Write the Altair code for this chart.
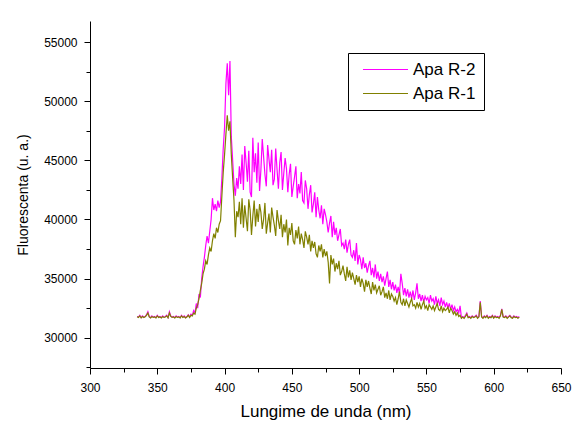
import altair as alt
import pandas as pd

x_start = 335
x_end = 619

apa_r2 = [
    31800, 31750, 31900, 31700, 31850, 31750, 31800, 31950, 32200, 31800,
    31700, 31850, 31750, 31800, 31700, 31900, 31750, 31800, 31700, 31850,
    31750, 31800, 31900, 31700, 32200, 31850, 31750, 31800, 31700, 31850,
    31750, 31800, 31700, 31900, 31750, 31850, 31700, 31800, 31950, 31750,
    32000, 31900, 32300, 32100, 32900, 32500, 33700, 33400, 35000, 36000,
    36800, 37800, 38600, 38000, 39000, 40000, 41800, 40800, 41300, 40700,
    41600, 41000, 41500, 43500, 46000, 47800, 51500, 53200, 50500, 53400,
    47000, 45000, 43000, 42000, 43500, 42600, 44500, 43000, 45500, 42500,
    46200, 44800, 43200, 45800, 42300, 41900, 46900, 44000, 45600, 43100,
    46500, 42400, 44200, 46800, 45300, 43800, 42800, 46300, 45100, 44000,
    45900, 42900, 43400, 46000, 44200, 42600, 44800, 45700, 42500, 43900,
    45200, 44300, 42300, 43800, 44700, 41900, 42800, 43600, 44500, 41800,
    43000, 42200, 44000, 41600, 41400, 43300, 42600, 40900, 42100, 42900,
    40600, 41300, 42300, 40200, 41900, 40800, 40100, 41200, 39600, 40900,
    40400, 39800, 38900, 39700, 40300, 38500, 39800, 38700, 39300, 38200,
    38700, 39200, 37800, 38000, 37500, 38300, 37200, 37900, 38300, 37000,
    36800, 37400, 36500, 38000, 36200, 37000, 36600, 35800, 36800, 35900,
    36300, 35500, 36100, 36500, 35300, 35900, 35100, 36200, 35000, 35600,
    34800, 35400, 34700, 35200, 34400, 35000, 35600, 34300, 34900, 34100,
    34700, 34000, 34500, 33800, 34300, 33700, 35400, 34600, 33600, 34200,
    33500, 34100, 33400, 33900, 33300, 34000, 33200, 33800, 34600, 33300,
    33700, 33100, 33600, 33000, 33500, 33200, 33400, 32900, 33600, 33100,
    33300, 32800, 33500, 32900, 33200, 32700, 33400, 32800, 33100, 32600,
    33000, 32500, 32900, 32400, 32800, 32300, 32600, 32200, 32400, 32100,
    32700, 31700, 31800, 31700, 31900, 32100, 31750, 31800, 31700, 31850,
    31750, 31800, 31900, 31700, 31800, 33100, 31800, 31700, 31850, 31750,
    31900, 31700, 31800, 31750, 31900, 31700, 31850, 31750, 31800, 31700,
    31900, 32450, 31800, 31750, 31850, 31700, 31800, 31900, 31750, 31700,
    31850, 31750, 31800, 31700, 31800,
]

apa_r1 = [
    31780, 31720, 31850, 31680, 31800, 31720, 31780, 31900, 32100, 31760,
    31680, 31800, 31720, 31760, 31680, 31850, 31720, 31760, 31680, 31800,
    31720, 31760, 31850, 31680, 32100, 31800, 31720, 31760, 31680, 31800,
    31720, 31760, 31680, 31850, 31720, 31800, 31680, 31760, 31900, 31720,
    31900, 31850, 32100, 32000, 32500, 32800, 33300, 34000, 34600, 35400,
    35800, 36500, 36200, 37000, 37600, 37300, 38200, 38800, 38400, 39300,
    38900, 39600, 39900, 42000, 44000, 45500, 47200, 48800, 47500, 48300,
    45500, 43500, 41600, 38500, 40700, 40200, 41500, 39600, 41800, 39300,
    41200, 40100, 39000, 41700, 40800, 38700, 40300, 41600, 39400, 40900,
    39800, 41300, 40600, 39200, 40000, 41400, 38800, 39700, 40500, 38900,
    41000, 40200, 39500, 38600, 40800, 39900, 39200, 40400, 38500, 39600,
    38900, 40000, 37800, 39300, 38700, 39700, 38200, 37900, 39100, 38400,
    39400, 37900, 38800, 38300, 37600, 39000, 38500, 37900, 38700, 37300,
    38200, 37600, 38100, 37100, 36800, 37800, 37300, 37900, 36800, 37500,
    36900, 37300, 36400, 34600, 37000, 36200, 36700, 35600, 36300, 35800,
    36500, 35300, 35600, 36100, 35400, 34800, 36000, 35100, 35700, 34900,
    35500, 35000, 34500, 35300, 34700, 35200, 34300, 35000, 34600, 33900,
    34900, 34300, 34800, 34200, 33700, 34700, 34000, 34500, 33800, 34100,
    34400, 33600, 33900, 34300, 33400, 33800, 33300, 34000, 33200, 33700,
    33500, 33100, 33400, 32800, 33300, 33900, 33000, 32800, 33300, 32700,
    33200, 32900, 32600, 33000, 33300, 32700, 32800, 32500, 33000, 32600,
    32900, 32400, 32800, 33100, 32500, 32700, 32300, 32800, 32600, 32400,
    32700, 32300, 32600, 32900, 32400, 32300, 32700, 32200, 32500, 32300,
    32400, 32600, 32100, 32500, 32300, 32000, 32200, 31900, 32100, 31800,
    31900, 31650, 31750, 31650, 31800, 32000, 31700, 31750, 31650, 31800,
    31700, 31750, 31850, 31650, 31750, 33000, 31750, 31650, 31800, 31700,
    31850, 31650, 31750, 31700, 31850, 31650, 31800, 31700, 31750, 31650,
    31850, 32400, 31750, 31700, 31800, 31650, 31750, 31850, 31700, 31650,
    31800, 31700, 31750, 31650, 31750,
]

wavelengths = list(range(x_start, x_end + 1))
series_names = ["Apa R-2", "Apa R-1"]
series_colors = ["#FF00FF", "#808000"]

x_ticks = [300, 325, 350, 375, 400, 425, 450, 475, 500, 525, 550, 575, 600, 625, 650]
y_ticks = [27500, 30000, 32500, 35000, 37500, 40000, 42500, 45000, 47500, 50000, 52500, 55000]

df_r2 = pd.DataFrame({"wl": wavelengths, "val": apa_r2, "series": series_names[0]})
df_r1 = pd.DataFrame({"wl": wavelengths, "val": apa_r1, "series": series_names[1]})

x_scale = alt.Scale(domain=[300, 650], nice=False, zero=False)
y_scale = alt.Scale(domain=[27446, 56776], nice=False, zero=False)
color_scale = alt.Scale(domain=series_names, range=series_colors)

legend = alt.Legend(
    title=None, orient="none", legendX=258, legendY=32,
    strokeColor="black", fillColor="white", padding=8,
    symbolType="M-3,0H3", symbolSize=225, symbolStrokeWidth=1,
    symbolOffset=21, labelOffset=19, rowPadding=6,
    labelFontSize=17, labelFont="Liberation Sans", labelColor="black",
)

x_axis = alt.Axis(
    values=x_ticks, orient="bottom", title="Lungime de unda (nm)",
    grid=False, labelFlush=False,
    tickSize={"condition": {"test": "datum.value % 50 === 0", "value": 6}, "value": 4},
    labelExpr="datum.value % 50 === 0 ? datum.label : ''",
    labelPadding=8, titlePadding=10,
    titleFontSize=17, labelFontSize=12, format="d",
)
y_axis = alt.Axis(
    values=y_ticks, orient="left", title="Fluorescenta (u. a.)",
    grid=False, labelFlush=False,
    tickSize={"condition": {"test": "datum.value % 5000 === 0", "value": 6}, "value": 4},
    labelExpr="datum.value % 5000 === 0 ? datum.label : ''",
    labelPadding=7, titlePadding=13,
    titleFontSize=14, labelFontSize=12, format="d",
)

line_r2 = alt.Chart(df_r2).mark_line(strokeWidth=1.2).encode(
    x=alt.X("wl:Q", scale=x_scale, axis=x_axis),
    y=alt.Y("val:Q", scale=y_scale, axis=y_axis),
    color=alt.Color("series:N", scale=color_scale, legend=legend),
)
line_r1 = alt.Chart(df_r1).mark_line(strokeWidth=1.2).encode(
    x=alt.X("wl:Q", scale=x_scale, axis=x_axis),
    y=alt.Y("val:Q", scale=y_scale, axis=y_axis),
    color=alt.Color("series:N", scale=color_scale, legend=legend),
)

chart = alt.layer(line_r2, line_r1).properties(
    width=471, height=347,
    autosize=alt.AutoSizeParams(type="none"),
    padding={"left": 90, "top": 21, "right": 19, "bottom": 57},
    background="white",
).configure_view(stroke=None).configure_axis(
    domainColor="black", tickColor="black", labelColor="black",
    titleColor="black", labelFont="Liberation Sans", titleFont="Liberation Sans",
    titleFontWeight="normal", domainWidth=1, tickWidth=1,
)

chart.save("out.html", embed_options={"renderer": "svg", "actions": False})
